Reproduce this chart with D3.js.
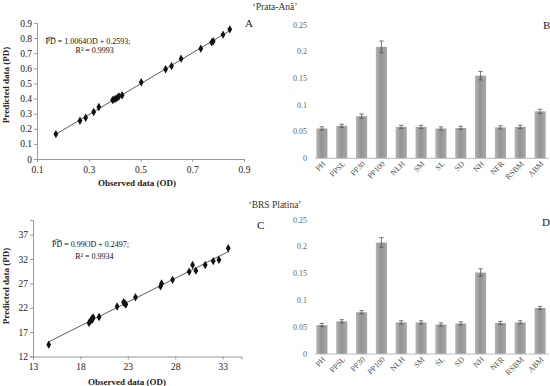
<!DOCTYPE html>
<html>
<head>
<meta charset="utf-8">
<script src="https://cdn.jsdelivr.net/npm/d3@7"></script>
<style>
  body { margin: 0; background: #fff; }
  svg { display: block; font-family: "Liberation Serif", "DejaVu Serif", serif; }
</style>
</head>
<body>
<svg id="chart"></svg>
<script>
// ---- data ----
// 'Prata-Anã' : observed vs predicted (panel A)
const odA = [0.173, 0.266, 0.288, 0.319, 0.339, 0.392, 0.398, 0.405, 0.412, 0.417, 0.429,
             0.503, 0.597, 0.620, 0.657, 0.733, 0.775, 0.781, 0.819, 0.845];
const pdA = [0.165, 0.253, 0.273, 0.311, 0.344, 0.390, 0.395, 0.399, 0.408, 0.415, 0.422,
             0.508, 0.594, 0.615, 0.664, 0.730, 0.772, 0.779, 0.823, 0.858];
const ticksAx = [0.1, 0.3, 0.5, 0.7, 0.9];
const ticksAy = [0, 0.1, 0.2, 0.3, 0.4, 0.5, 0.6, 0.7, 0.8, 0.9];

// 'BRS Platina' : observed vs predicted (panel C)
const odC = [14.66, 18.91, 19.06, 19.20, 19.34, 19.27, 19.97, 21.87, 22.55, 22.71, 22.79,
             23.81, 26.45, 26.56, 27.72, 29.47, 29.83, 30.18, 31.16, 32.01, 32.61, 33.59];
const pdC = [14.43, 18.88, 19.29, 19.69, 20.04, 19.57, 20.10, 22.26, 23.13, 22.87, 22.67,
             24.15, 26.37, 26.98, 27.73, 29.41, 30.77, 29.61, 30.77, 31.57, 31.84, 34.21];
const ticksCx = [13, 18, 23, 28, 33];
const ticksCy = [12, 17, 22, 27, 32, 37];

// traits (panels B and D)
const traits = ["PH", "PPSL", "PP30", "PP100", "NLH", "SM", "SL", "SD", "NH", "NFR", "RSBM", "ABM"];
const valB = [0.056, 0.061, 0.079, 0.209, 0.059, 0.059, 0.056, 0.057, 0.155, 0.058, 0.059, 0.088];
const errB = [0.003, 0.003, 0.004, 0.011, 0.003, 0.003, 0.003, 0.003, 0.008, 0.003, 0.003, 0.004];
const valD = [0.054, 0.061, 0.078, 0.208, 0.059, 0.059, 0.055, 0.057, 0.152, 0.058, 0.059, 0.086];
const errD = [0.003, 0.003, 0.003, 0.009, 0.003, 0.003, 0.003, 0.003, 0.007, 0.003, 0.003, 0.003];
const ticksBar = [0, 0.05, 0.1, 0.15, 0.2, 0.25];
const tickBarLabels = ["0", "0.05", "0.1", "0.15", "0.2", "0.25"];

const svg = d3.select("#chart").attr("width", 550).attr("height", 386);

// gradient used by the bars
const grad = svg.append("defs").append("linearGradient")
    .attr("id", "barGrad").attr("x1", "0%").attr("x2", "100%");
grad.append("stop").attr("offset", "0%").attr("stop-color", "#b4b4b4");
grad.append("stop").attr("offset", "45%").attr("stop-color", "#939393");
grad.append("stop").attr("offset", "100%").attr("stop-color", "#a8a8a8");

// titles
svg.append("text").attr("x", 275).attr("y", 10).attr("text-anchor", "middle")
    .attr("font-size", "9.5px").attr("fill", "#333").text("‘Prata-Anã’");
svg.append("text").attr("x", 275).attr("y", 208).attr("text-anchor", "middle")
    .attr("font-size", "9.5px").attr("fill", "#333").text("‘BRS Platina’");

function linFit(xs, ys) {
    const mx = d3.mean(xs), my = d3.mean(ys);
    let sxy = 0, sxx = 0;
    xs.forEach((x, i) => { sxy += (x - mx) * (ys[i] - my); sxx += (x - mx) * (x - mx); });
    const b = sxy / sxx;
    return {b: b, a: my - b * mx};
}

function drawScatter(cfg, od, pd) {
    const g = svg.append("g");
    const x = d3.scaleLinear().domain(cfg.xdom).range(cfg.xr);
    const y = d3.scaleLinear().domain(cfg.ydom).range(cfg.yr);

    const ax = g.append("g").attr("transform", `translate(0,${cfg.yr[0]})`)
        .call(d3.axisBottom(x).tickValues(cfg.xt).tickSize(3).tickPadding(4).tickFormat(d3.format("")));
    const ay = g.append("g").attr("transform", `translate(${cfg.xr[0]},0)`)
        .call(d3.axisLeft(y).tickValues(cfg.yt).tickSize(3).tickPadding(2).tickFormat(d3.format("")));
    [ax, ay].forEach(a => {
        a.select(".domain").attr("stroke", "#999");
        a.selectAll(".tick line").attr("stroke", "#999");
        a.selectAll("text").attr("font-family", "Liberation Serif").attr("font-size", "9.5px").attr("fill", "#222");
    });

    // trend line
    const f = linFit(od, pd);
    const x0 = d3.min(od), x1 = d3.max(od);
    g.append("line")
        .attr("x1", x(x0)).attr("y1", y(f.a + f.b * x0))
        .attr("x2", x(x1)).attr("y2", y(f.a + f.b * x1))
        .attr("stroke", "#333").attr("stroke-width", 0.8);

    g.selectAll("path.pt").data(od).join("path").attr("class", "pt")
        .attr("transform", (d, i) => `translate(${x(d)},${y(pd[i])})`)
        .attr("d", d3.symbol(d3.symbolDiamond, 20))
        .attr("fill", "#111");

    // axis titles
    g.append("text").attr("x", cfg.xlab[0]).attr("y", cfg.xlab[1]).attr("text-anchor", "middle")
        .attr("font-size", "9px").attr("font-weight", "bold").attr("fill", "#222")
        .text("Observed data (OD)");
    g.append("text").attr("transform", `translate(${cfg.ylab[0]},${cfg.ylab[1]}) rotate(-90)`)
        .attr("text-anchor", "middle")
        .attr("font-size", "9px").attr("font-weight", "bold").attr("fill", "#222")
        .text("Predicted data (PD)");

    // equation with a hat over PD
    const eq = g.append("text").attr("x", cfg.eq[0]).attr("y", cfg.eq[1]).attr("text-anchor", "middle")
        .attr("font-size", "8px").attr("fill", "#111").text(cfg.eqText);
    const node = eq.node();
    const p0 = node.getStartPositionOfChar(0);
    const p1 = node.getEndPositionOfChar(1);
    const hy = p0.y - 7;
    g.append("path")
        .attr("d", `M${p0.x + 0.5},${hy + 1.6} L${(p0.x + p1.x) / 2},${hy} L${p1.x - 0.5},${hy + 1.6}`)
        .attr("fill", "none").attr("stroke", "#111").attr("stroke-width", 0.6);
    g.append("text").attr("x", cfg.r2[0]).attr("y", cfg.r2[1]).attr("text-anchor", "middle")
        .attr("font-size", "8px").attr("fill", "#111").text(cfg.r2Text);

    g.append("text").attr("x", cfg.letter[0]).attr("y", cfg.letter[1])
        .attr("font-size", "11px").attr("fill", "#222").text(cfg.letterText);
}

function drawBars(cfg, vals, errs) {
    const g = svg.append("g");
    const x = d3.scaleBand().domain(traits).range(cfg.xr).paddingInner(0.44).paddingOuter(0.22);
    const y = d3.scaleLinear().domain([0, 0.25]).range(cfg.yr);

    // y tick labels (no axis line, Excel style)
    g.selectAll("text.yt").data(ticksBar).join("text").attr("class", "yt")
        .attr("x", cfg.labX).attr("y", d => y(d)).attr("dy", "0.32em")
        .attr("text-anchor", "end").attr("font-size", "8px").attr("fill", "#666")
        .text((d, i) => tickBarLabels[i]);

    g.selectAll("rect").data(vals).join("rect")
        .attr("x", (d, i) => x(traits[i]))
        .attr("y", d => y(d))
        .attr("width", x.bandwidth())
        .attr("height", d => y(0) - y(d))
        .attr("fill", "url(#barGrad)");

    // error bars
    const eb = g.selectAll("g.err").data(vals).join("g").attr("class", "err")
        .attr("stroke", "#555").attr("stroke-width", 0.8);
    eb.append("line")
        .attr("x1", (d, i) => x(traits[i]) + x.bandwidth() / 2)
        .attr("x2", (d, i) => x(traits[i]) + x.bandwidth() / 2)
        .attr("y1", (d, i) => y(d + errs[i])).attr("y2", (d, i) => y(d - errs[i]));
    [1, -1].forEach(s => {
        eb.append("line")
            .attr("x1", (d, i) => x(traits[i]) + x.bandwidth() / 2 - 2.2)
            .attr("x2", (d, i) => x(traits[i]) + x.bandwidth() / 2 + 2.2)
            .attr("y1", (d, i) => y(d + s * errs[i])).attr("y2", (d, i) => y(d + s * errs[i]));
    });

    // baseline
    g.append("line").attr("x1", cfg.xr[0] + 3).attr("x2", cfg.xr[1] - 1)
        .attr("y1", y(0)).attr("y2", y(0)).attr("stroke", "#bbb").attr("stroke-width", 1);

    // category labels
    g.selectAll("text.cat").data(traits).join("text").attr("class", "cat")
        .attr("transform", d => `translate(${x(d) + x.bandwidth() / 2 + 4},${y(0) + 6}) rotate(-45)`)
        .attr("text-anchor", "end").attr("font-size", "8px").attr("fill", "#555")
        .text(d => d);

    g.append("text").attr("x", cfg.letter[0]).attr("y", cfg.letter[1])
        .attr("font-size", "11px").attr("fill", "#222").text(cfg.letterText);
}

drawScatter({
    xdom: [0.1, 0.9], ydom: [0, 0.9], xr: [37, 244], yr: [159, 23],
    xt: ticksAx, yt: ticksAy,
    xlab: [137, 186], ylab: [9, 85],
    eq: [88, 44], eqText: "PD = 1.0064OD + 0.2593;",
    r2: [94.7, 52.5], r2Text: "R² = 0.9993",
    letter: [245, 27], letterText: "A"
}, odA, pdA);

drawScatter({
    xdom: [13, 35], ydom: [12, 40], xr: [33, 241.6], yr: [356.5, 220],
    xt: ticksCx, yt: ticksCy,
    xlab: [127, 385], ylab: [9, 286],
    eq: [90.5, 246.5], eqText: "PD = 0.99OD + 0.2497;",
    r2: [94.3, 259], r2Text: "R² = 0.9934",
    letter: [257, 229], letterText: "C"
}, odC, pdC);

drawBars({xr: [312, 550], yr: [158.3, 25], labX: 307, letter: [543, 29], letterText: "B"}, valB, errB);
drawBars({xr: [312, 550], yr: [354, 220], labX: 307, letter: [542, 226], letterText: "D"}, valD, errD);
</script>
</body>
</html>
